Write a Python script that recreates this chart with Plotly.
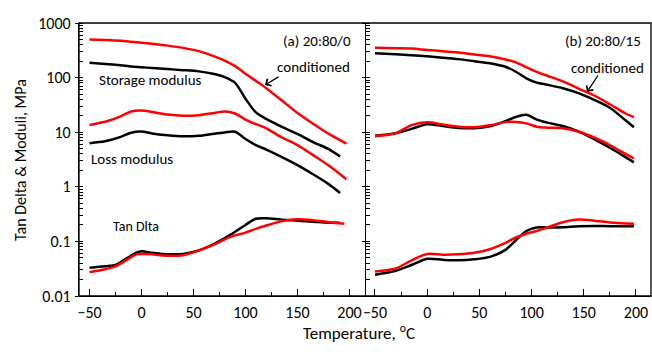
import plotly.graph_objects as go

# ---------------- data ----------------
# Panel (a) 20:80/0
temp_a_cond = [-50, -35, -20, -10, 0, 10, 25, 40, 55, 70, 80, 90, 100, 110, 120, 135, 150, 165, 180, 197]
temp_a_dry = [-50, -35, -20, -10, 0, 10, 25, 40, 55, 70, 80, 90, 100, 110, 120, 135, 150, 165, 180, 191]
storage_a_cond = [500, 490, 475, 455, 435, 415, 385, 350, 305, 245, 205, 162, 118, 87, 64, 38, 22.5, 14.3, 9.3, 6.2]
storage_a_dry = [188, 178, 168, 160, 155, 150, 143, 137, 130, 116, 102, 80, 41, 23, 17.5, 12.5, 9.3, 6.6, 4.9, 3.6]
loss_a_cond = [13.6, 15.5, 19.5, 24, 25, 23.5, 21, 20, 20.5, 22.5, 24, 22, 17, 14, 11.8, 8, 5.8, 3.8, 2.45, 1.38]
loss_a_dry = [6.3, 6.8, 8.2, 9.8, 10.3, 9.5, 8.8, 8.4, 8.6, 9.4, 9.9, 10.2, 7.5, 5.8, 4.8, 3.5, 2.5, 1.7, 1.12, 0.77]

temp_tan_a_cond = [-50, -35, -25, -15, -5, 0, 10, 20, 40, 55, 70, 85, 100, 110, 120, 135, 150, 165, 180, 195]
temp_tan_a_dry = [-50, -35, -25, -15, -5, 0, 10, 20, 40, 55, 70, 85, 100, 110, 120, 135, 150, 165, 180, 191]
tan_a_cond = [0.0275, 0.031, 0.035, 0.045, 0.058, 0.059, 0.058, 0.055, 0.056, 0.068, 0.088, 0.12, 0.145, 0.17, 0.195, 0.235, 0.255, 0.245, 0.225, 0.21]
tan_a_dry = [0.033, 0.035, 0.037, 0.048, 0.062, 0.066, 0.062, 0.059, 0.059, 0.068, 0.09, 0.13, 0.2, 0.26, 0.265, 0.25, 0.24, 0.23, 0.22, 0.22]

# Panel (b) 20:80/15
temp_b = [-50, -30, -15, 0, 15, 30, 45, 60, 75, 85, 95, 105, 115, 130, 145, 160, 175, 190, 198]
storage_b_cond = [353, 345, 340, 320, 305, 288, 265, 245, 215, 190, 155, 127, 108, 85, 63, 47, 32.5, 22, 18.8]
storage_b_dry = [279, 268, 258, 245, 232, 218, 200, 183, 158, 128, 97, 81, 74, 64, 52, 39, 28, 16.5, 12.3]
loss_b_cond = [8.4, 9.6, 13.5, 15.2, 13.8, 12.6, 12.3, 13.4, 15.3, 15.4, 14.5, 12.6, 12.1, 11.8, 10.2, 8.0, 5.8, 4.0, 3.3]
loss_b_dry = [8.6, 9.6, 11.5, 14, 13, 12, 11.8, 12.8, 16, 19, 20.8, 17, 15, 13, 10.3, 7.5, 5.2, 3.5, 2.8]
tan_b_cond = [0.028, 0.032, 0.045, 0.059, 0.057, 0.058, 0.062, 0.072, 0.094, 0.118, 0.138, 0.155, 0.18, 0.225, 0.252, 0.24, 0.222, 0.212, 0.21]
tan_b_dry = [0.0245, 0.029, 0.037, 0.048, 0.046, 0.045, 0.047, 0.052, 0.07, 0.105, 0.155, 0.18, 0.18, 0.182, 0.19, 0.192, 0.19, 0.19, 0.19]

x_ticks = [-50, 0, 50, 100, 150, 200]
x_minor = [-25, 25, 75, 125, 175]
y_ticks = [0.01, 0.1, 1, 10, 100, 1000]
y_ticktext = ["0.01", "0.1", "1", "10", "100", "1000"]

# ---------------- figure ----------------
W, H = 652, 352
L, R, T, B = 79, 1, 23, 56
PW, PH = W - L - R, H - T - B
FONT = "Carlito, Calibri, Lato, sans-serif"
RED, BLACK = "#ff0000", "#000000"


def px(x):
    return (x - L) / PW


def py(y):
    return (T + PH - y) / PH


split = px(366)

fig = go.Figure()


def add(x, y, color, xa, ya):
    fig.add_trace(go.Scatter(x=x, y=y, mode="lines", xaxis=xa, yaxis=ya,
                             line=dict(color=color, width=2.5, shape="spline", smoothing=0.8),
                             showlegend=False, hoverinfo="skip"))


for xs, ys, c in [(temp_a_dry, storage_a_dry, BLACK), (temp_a_cond, storage_a_cond, RED),
                  (temp_a_dry, loss_a_dry, BLACK), (temp_a_cond, loss_a_cond, RED),
                  (temp_tan_a_dry, tan_a_dry, BLACK), (temp_tan_a_cond, tan_a_cond, RED)]:
    add(xs, ys, c, "x", "y")

for ys, c in [(storage_b_dry, BLACK), (storage_b_cond, RED),
              (loss_b_dry, BLACK), (loss_b_cond, RED),
              (tan_b_dry, BLACK), (tan_b_cond, RED)]:
    add(temp_b, ys, c, "x2", "y2")

xcommon = dict(tickmode="array", tickvals=x_ticks, ticks="inside", ticklen=7, tickwidth=1.3,
               tickcolor="black", showline=True, linecolor="black", linewidth=1.3,
               showgrid=False, zeroline=False, ticklabelstandoff=2,
               tickfont=dict(family=FONT, size=16, color="black"),
               minor=dict(tickmode="array", tickvals=x_minor, ticks="inside", ticklen=4,
                          tickwidth=1.3, tickcolor="black", showgrid=False))

y_minor = []
for d in [0.01, 0.1, 1, 10, 100]:
    for k in range(1, 10):
        y_minor.append(round(d * k, 6))
y_minor.append(1000)

ycommon = dict(type="log", range=[-2, 3], tickmode="array", tickvals=y_ticks, ticktext=y_ticktext,
               ticks="outside", ticklen=3, tickwidth=1.3, tickcolor="black",
               showline=True, linecolor="black", linewidth=1.3, showgrid=False, zeroline=False,
               tickfont=dict(family=FONT, size=16, color="black"), ticklabelstandoff=1,
               minor=dict(tickmode="array", tickvals=y_minor, ticks="inside", ticklen=4,
                          tickwidth=1, tickcolor="black", showgrid=False))

fig.update_layout(
    width=W, height=H, margin=dict(l=L, r=R, t=T, b=B, autoexpand=False),
    paper_bgcolor="white", plot_bgcolor="white",
    xaxis=dict(domain=[0, split], range=[-60.1, 215.9], anchor="y", automargin=False, **xcommon),
    xaxis2=dict(domain=[split, 1], range=[-58.6, 214.4], anchor="y2", automargin=False, **xcommon),
    yaxis=dict(domain=[0, 1], anchor="x", showticklabels=True, automargin=False, **ycommon),
    yaxis2=dict(domain=[0, 1], anchor="x2", automargin=False, **{**ycommon, "showticklabels": False}),
    font=dict(family=FONT, color="black"),
)

fig.add_shape(type="rect", xref="paper", yref="paper", x0=0, x1=1, y0=0, y1=1,
              line=dict(color="black", width=1.3), layer="above")

ann = []


def text(t, cx, cy, size=15):
    ann.append(dict(text=t, x=px(cx), y=py(cy), xref="paper", yref="paper",
                    showarrow=False, xanchor="center", yanchor="middle",
                    font=dict(family=FONT, size=size, color="black")))


text("(a) 20:80/0", 317, 41)
text("conditioned", 313.5, 67)
text("Storage modulus", 150, 80)
text("Loss modulus", 132, 159)
text("Tan Dlta", 136, 226, 14)
text("(b) 20:80/15", 603, 41)
text("conditioned", 607.5, 67.5)

ann.append(dict(text="Temperature, <sup>o</sup>C", x=px(359), y=py(332), xref="paper", yref="paper",
                showarrow=False, xanchor="center", yanchor="middle",
                font=dict(family=FONT, size=17, color="black")))
ann.append(dict(text="Tan Delta & Moduli, MPa", x=px(20), y=py(160), xref="paper", yref="paper",
                showarrow=False, xanchor="center", yanchor="middle", textangle=-90,
                font=dict(family=FONT, size=16, color="black")))

for hx, hy, dx, dy in [(265, 85, 15, -9), (587, 92, 12, -18)]:
    ann.append(dict(text="", x=px(hx), y=py(hy), xref="paper", yref="paper",
                    showarrow=True, arrowhead=4, arrowsize=1.2, arrowwidth=1.3, arrowcolor="black",
                    ax=dx, ay=dy, standoff=0))

fig.update_layout(annotations=ann)
fig.write_html("out.html", config={"displayModeBar": False},
               post_script="document.body.style.margin='0';document.body.style.overflow='hidden';")
